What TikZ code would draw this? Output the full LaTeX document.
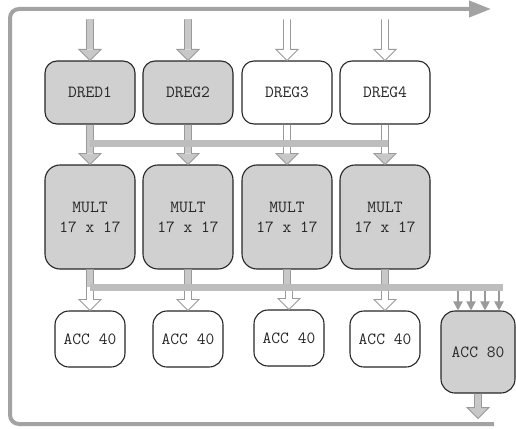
\documentclass[tikz,border=0pt]{standalone}
\usepackage{fontspec}
\usetikzlibrary{calc,arrows.meta}

\definecolor{boxgray}{HTML}{D0D0D0}
\definecolor{arrowgray}{HTML}{C8C8C8}
\definecolor{edgegray}{HTML}{9A9A9A}
\definecolor{busgray}{HTML}{BDBDBD}
\definecolor{framegray}{HTML}{A3A3A3}
\definecolor{textdark}{HTML}{262626}

% block arrow pointing down: shaft fill, head fill, from, to
\newcommand{\blockarrow}[4]{%
  \path (#3) coordinate (ba-s) (#4) coordinate (ba-e);
  \fill[#1] ($(ba-s)+(-3.5,0)$) rectangle ($(ba-e)+(3.5,-11)$);
  \fill[#2] ($(ba-e)+(-11,-11)$) -- (ba-e) -- ($(ba-e)+(11,-11)$) -- cycle;
  \draw[blockline] ($(ba-s)+(-3.5,0)$) -- ($(ba-e)+(-3.5,-11)$) -- ($(ba-e)+(-11,-11)$)
    -- (ba-e) -- ($(ba-e)+(11,-11)$) -- ($(ba-e)+(3.5,-11)$) -- ($(ba-s)+(3.5,0)$);
}

\begin{document}
\begin{tikzpicture}[x=1pt,y=-1pt,
    box/.style={draw=black!85, line width=1.1pt, inner sep=0pt, align=center,
      text=textdark, font=\fontsize{17}{20}\selectfont\ttfamily\addfontfeatures{FakeBold=0.8}},
    reg/.style={box, rounded corners=12pt, minimum width=90pt, minimum height=63pt},
    mult/.style={box, fill=boxgray, rounded corners=15pt, minimum width=90pt, minimum height=104pt},
    acc/.style={box, rounded corners=14pt, minimum width=70pt, minimum height=56pt},
    blockline/.style={draw=edgegray, line width=0.9pt, line join=miter},
    bus/.style={busgray, line width=7pt},
    feed/.style={edgegray, line width=2pt, -{Triangle[length=9pt,width=9pt]}},
    frame/.style={framegray, line width=4pt, rounded corners=9pt}]
    \useasboundingbox (0,0) rectangle (516,428);

    % outer loop
    \coordinate (loopend) at (494,424);
    \coordinate (loopout) at (491,9);
    \draw[frame, -{Triangle[length=22pt,width=16pt]}] (loopend) -- (10,424) -- (10,9) -- (loopout);

    % data registers
    \node[reg, fill=boxgray] (dreg1) at (90,92.5) {DRED1};
    \node[reg, fill=boxgray] (dreg2) at (188,92.5) {DREG2};
    \node[reg, fill=white] (dreg3) at (287,92.5) {DREG3};
    \node[reg, fill=white] (dreg4) at (385,92.5) {DREG4};

    % multipliers
    \node[mult] (mult1) at (90,217) {MULT\\17 x 17};
    \node[mult] (mult2) at (188,217) {MULT\\17 x 17};
    \node[mult] (mult3) at (287,217) {MULT\\17 x 17};
    \node[mult] (mult4) at (385,217) {MULT\\17 x 17};

    % accumulators
    \node[acc, fill=white] (acc1) at (90,339) {ACC 40};
    \node[acc, fill=white] (acc2) at (188,339) {ACC 40};
    \node[acc, fill=white] (acc3) at (289,338) {ACC 40};
    \node[acc, fill=white] (acc4) at (385,339) {ACC 40};
    \node[acc, fill=boxgray, minimum width=74pt, minimum height=82pt] (acc80) at (478,352) {ACC 80};

    % buses
    \coordinate (bus1w) at (90,143);
    \coordinate (bus1e) at (388,143);
    \coordinate (bus2w) at (90,287);
    \coordinate (bus2e) at (503,287);

    % inputs and register outputs
    \foreach \i/\f in {1/arrowgray,2/arrowgray,3/white,4/white} {
      \coordinate (in\i) at ($(dreg\i.north)+(0,-41)$);
      \blockarrow{\f}{\f}{in\i}{dreg\i.north}
      \blockarrow{\f}{arrowgray}{dreg\i.south}{mult\i.north}
    }
    \draw[bus] (bus1w) -- (bus1e);

    % multiplier outputs
    \foreach \i in {1,...,4} {
      \filldraw[blockline, fill=arrowgray] ($(mult\i.south)+(-3.5,0)$) rectangle ($(mult\i.south |- bus2w)+(3.5,0)$);
      \blockarrow{white}{white}{acc\i.north |- bus2w}{acc\i.north}
    }
    \draw[bus] (bus2w) -- (bus2e);

    % wide accumulator
    \foreach \dx in {-20,-7,7,21}
      \draw[feed] ($(acc80.north |- bus2e)+(\dx,3.5)$) -- ($(acc80.north)+(\dx,0)$);
    \coordinate (out80) at ($(acc80.south)+(0,25)$);
    \blockarrow{arrowgray}{arrowgray}{acc80.south}{out80}
\end{tikzpicture}
\end{document}
